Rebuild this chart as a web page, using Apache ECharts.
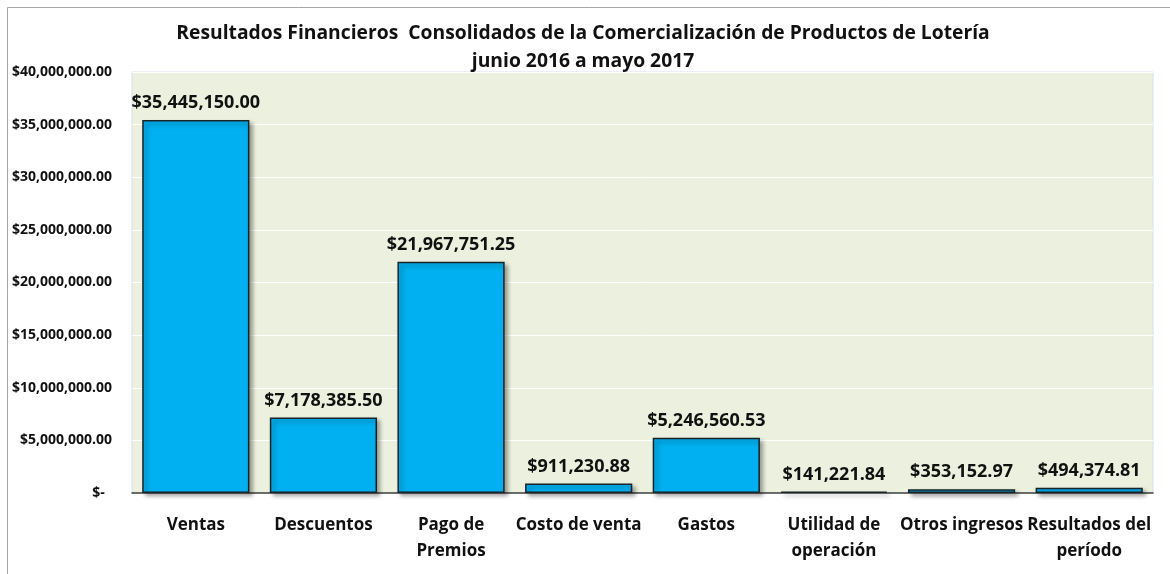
<!DOCTYPE html>
<html>
<head>
<meta charset="utf-8">
<script src="https://cdn.jsdelivr.net/npm/echarts@6/dist/echarts.min.js"></script>
<style>
  html, body { margin: 0; padding: 0; background: #fff; }
  #chart { width: 1170px; height: 574px; }
</style>
</head>
<body>
<div id="chart"></div>
<script>
// Resultados financieros - datos
const categorias = ['Ventas', 'Descuentos', 'Pago de\nPremios', 'Costo de venta', 'Gastos', 'Utilidad de\noperación', 'Otros ingresos', 'Resultados del\nperíodo'];
const montos = [35445150.00, 7178385.50, 21967751.25, 911230.88, 5246560.53, 141221.84, 353152.97, 494374.81];
const titulo = 'Resultados Financieros  Consolidados de la Comercialización de Productos de Lotería\njunio 2016 a mayo 2017';

const FUENTE = '"Open Sans", Lato, sans-serif';

function moneda(v) {
  if (v === 0) return '$-  ';
  return '$' + v.toLocaleString('en-US', { minimumFractionDigits: 2, maximumFractionDigits: 2 });
}

const chart = echarts.init(document.getElementById('chart'));

chart.setOption({
  animation: false,
  backgroundColor: '#fff',
  title: {
    text: titulo,
    left: 578,
    top: 15,
    textAlign: 'center',
    textStyle: { fontFamily: FUENTE, fontSize: 19.3, fontWeight: 'bold', color: '#111', lineHeight: 28 }
  },
  graphic: [
    {
      type: 'rect',
      shape: { x: 7.5, y: 7.5, width: 1170, height: 580 },
      style: { fill: 'none', stroke: '#a6a6a6', lineWidth: 1 },
      silent: true
    }
  ],
  grid: {
    left: 132, right: 17, top: 72, bottom: 81,
    show: true,
    backgroundColor: '#EBF1DE',
    borderColor: '#d6dfee',
    borderWidth: 1
  },
  xAxis: {
    type: 'category',
    data: categorias,
    axisLine: { show: true, lineStyle: { color: '#404040', width: 1.5 } },
    axisTick: { show: false },
    axisLabel: {
      interval: 0,
      margin: 19,
      fontFamily: FUENTE,
      fontSize: 17,
      fontWeight: 'bold',
      color: '#111',
      lineHeight: 26
    }
  },
  yAxis: {
    type: 'value',
    min: 0,
    max: 40000000,
    interval: 5000000,
    axisLine: { show: false },
    axisTick: { show: false },
    splitLine: { lineStyle: { color: '#ffffff', width: 1 } },
    axisLabel: {
      margin: 20,
      fontFamily: FUENTE,
      fontSize: 14,
      fontWeight: 'bold',
      color: '#111',
      formatter: moneda
    }
  },
  series: [{
    type: 'bar',
    data: montos,
    barWidth: '84%',
    itemStyle: {
      color: '#00B0F0',
      borderColor: '#1a2328',
      borderWidth: 1.5,
      shadowColor: 'rgba(0,0,0,0.35)',
      shadowBlur: 4,
      shadowOffsetX: 3,
      shadowOffsetY: 3
    },
    label: {
      show: true,
      position: 'top',
      distance: 8,
      fontFamily: FUENTE,
      fontSize: 18,
      fontWeight: 'bold',
      color: '#111',
      formatter: p => moneda(p.value)
    }
  }]
});
</script>
</body>
</html>
